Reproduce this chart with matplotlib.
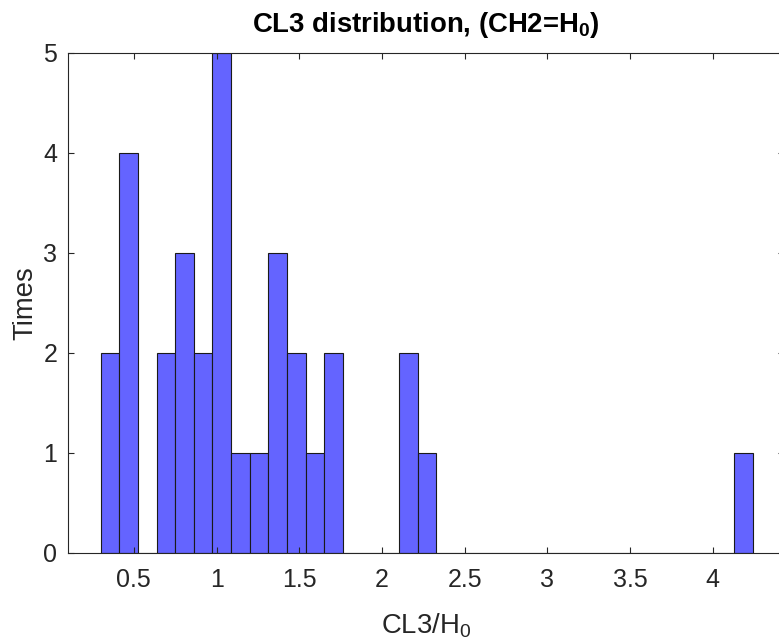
import numpy as np
import matplotlib
matplotlib.use('Agg')
import matplotlib.pyplot as plt

plt.rcParams['font.family'] = ['Liberation Sans', 'DejaVu Sans']
plt.rcParams['mathtext.fontset'] = 'custom'
plt.rcParams['mathtext.rm'] = 'Liberation Sans'
plt.rcParams['mathtext.it'] = 'Liberation Sans'
plt.rcParams['mathtext.bf'] = 'Liberation Sans:bold'
plt.rcParams['mathtext.default'] = 'rm'

# histogram counts per bin
counts = [2, 4, 0, 2, 3, 2, 5, 1, 1, 3, 2, 1, 2, 0, 0, 0, 2, 1,
          0, 0, 0, 0, 0, 0, 0, 0, 0, 0, 0, 0, 0, 0, 0, 0, 1]
bin_start = 0.299
bin_width = 0.1127
x_ticks = [0.5, 1, 1.5, 2, 2.5, 3, 3.5, 4]
x_tick_labels = ['0.5', '1', '1.5', '2', '2.5', '3', '3.5', '4']
y_ticks = [0, 1, 2, 3, 4, 5]

edges = bin_start + bin_width * np.arange(len(counts) + 1)

txt = '#262626'
fig = plt.figure(figsize=(7.79, 6.40), dpi=100)
# right spine sits just past the image edge, as in the cropped original
ax = fig.add_axes([0.0869, 0.1367, 0.9195, 0.7805])
ax.hist(edges[:-1], bins=edges, weights=counts, color='#6464ff',
        edgecolor='#1a1a1a', linewidth=0.8)

ax.set_xlim(0.1, 4.43)
ax.set_ylim(0, 5)
ax.set_xticks(x_ticks)
ax.set_xticklabels(x_tick_labels)
ax.set_yticks(y_ticks)
ax.tick_params(direction='in', top=True, right=True, length=4.5, width=0.8,
               color=txt, labelcolor=txt, labelsize=18)
ax.tick_params(axis='x', pad=11)
ax.tick_params(axis='y', pad=7.5)
for s in ax.spines.values():
    s.set_color(txt)
    s.set_linewidth(0.8)

ax.set_xlabel(r'CL3/H$_0$', fontsize=19.8, color=txt)
ax.xaxis.label.set_va('baseline')
ax.xaxis.set_label_coords(0.5, -0.162)
ax.set_ylabel('Times', fontsize=19.8, color=txt)
ax.yaxis.label.set_va('baseline')
ax.yaxis.set_label_coords(-0.05, 0.5)
ax.set_title(r'CL3 distribution, (CH2=H$_\mathbf{0}$)', fontsize=19.8,
             fontweight='bold', y=1.042, va='baseline', pad=0)

fig.savefig('out.png', dpi=100)
